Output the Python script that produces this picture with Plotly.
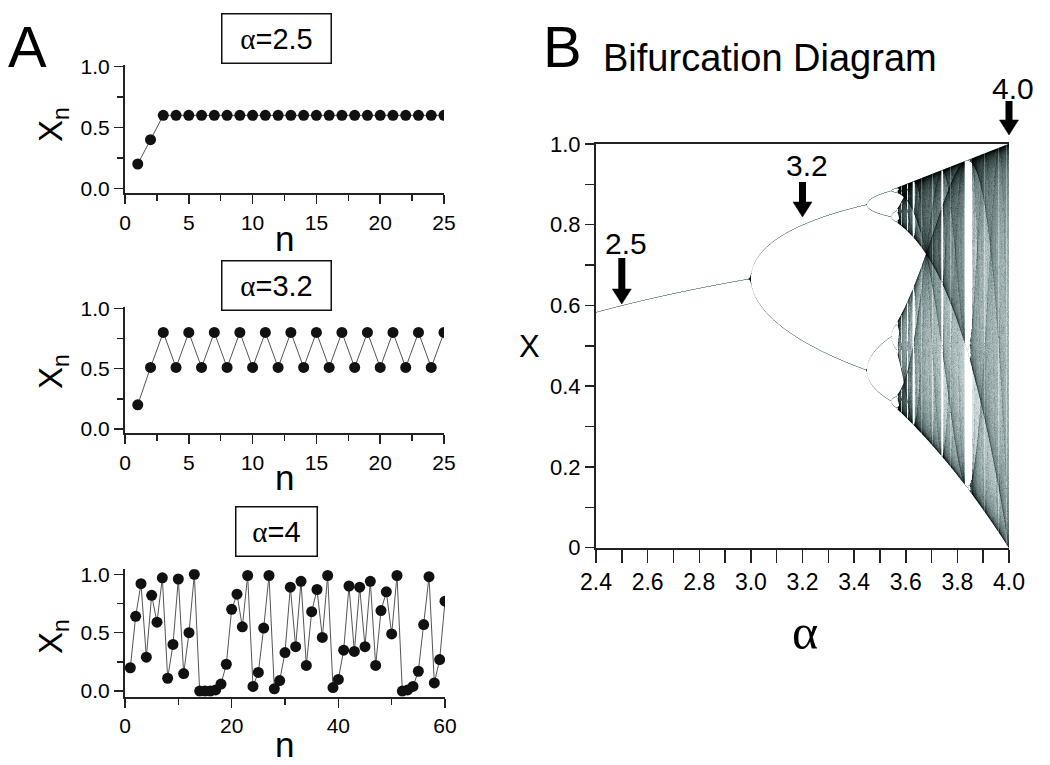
import numpy as np
import plotly.graph_objects as go

# ---------------- data ----------------
n_25 = list(range(1, 26))
x_alpha25 = [0.20, 0.40] + [0.60] * 23
x_alpha32 = [0.20, 0.51] + [0.80, 0.51] * 11 + [0.80]
n_60 = list(range(1, 61))
x_alpha4 = [0.20, 0.64, 0.92, 0.29, 0.82, 0.59, 0.97, 0.11, 0.40, 0.96,
            0.15, 0.50, 1.00, 0.00, 0.00, 0.00, 0.01, 0.06, 0.23, 0.70,
            0.83, 0.55, 0.99, 0.04, 0.16, 0.54, 0.99, 0.02, 0.09, 0.33,
            0.89, 0.38, 0.94, 0.22, 0.68, 0.87, 0.46, 0.99, 0.03, 0.10,
            0.35, 0.90, 0.34, 0.89, 0.38, 0.94, 0.22, 0.69, 0.85, 0.49,
            0.99, 0.00, 0.01, 0.04, 0.17, 0.57, 0.98, 0.07, 0.27, 0.77]
panel_titles = ["α=2.5", "α=3.2", "α=4"]

# Bifurcation diagram: logistic map x -> a*x*(1-x), the model the chart shows
ALPHA_MIN, ALPHA_MAX = 2.4, 4.0
X_START = 0.2
TRANSIENT = 400
KEEP = 16000
bif_xticks = [2.4, 2.6, 2.8, 3.0, 3.2, 3.4, 3.6, 3.8, 4.0]
bif_xticktext = ["2.4", "2.6", "2.8", "3.0", "3.2", "3.4", "3.6", "3.8", "4.0"]
bif_yticks = [0, 0.2, 0.4, 0.6, 0.8, 1.0]
bif_yticktext = ["0", "0.2", "0.4", "0.6", "0.8", "1.0"]
arrow_alphas = [2.5, 3.2, 4.0]
arrow_labels = ["2.5", "3.2", "4.0"]

# ---------------- bifurcation density image ----------------
N_COLS, N_ROWS, SS = 413, 404, 3
na, nr = N_COLS * SS, N_ROWS * SS
alphas = ALPHA_MIN + (np.arange(na) + 0.5) * (ALPHA_MAX - ALPHA_MIN) / na
xs = np.full(na, X_START)
for _ in range(TRANSIENT):
    xs = alphas * xs * (1 - xs)
cols = np.arange(na)
counts = np.zeros(nr * na, dtype=np.int64)
chunk = []
for k in range(KEEP):
    xs = alphas * xs * (1 - xs)
    r = np.clip((xs * nr).astype(np.int64), 0, nr - 1)
    chunk.append(r * na + cols)
    if len(chunk) == 1000:
        counts += np.bincount(np.concatenate(chunk), minlength=nr * na)
        chunk = []
if chunk:
    counts += np.bincount(np.concatenate(chunk), minlength=nr * na)
counts = counts.reshape(nr, na)
dark = 1 - np.exp(-counts / 28.0)
D = dark.reshape(N_ROWS, SS, N_COLS, SS).mean(axis=(1, 3))
D = np.round(D, 3)
hx = ALPHA_MIN + (np.arange(N_COLS) + 0.5) * (ALPHA_MAX - ALPHA_MIN) / N_COLS
hy = (np.arange(N_ROWS) + 0.5) / N_ROWS

# ---------------- layout helpers ----------------
W, H = 1050, 765
def px(xp):
    return xp / W
def py(yp):
    return 1 - yp / H

FONT = "Liberation Sans, Arial, sans-serif"
SERIF = "Liberation Serif, Times New Roman, serif"
AX = "#222222"

fig = go.Figure()

line_style = dict(color="#555555", width=1)
mark_style = dict(color="#111111", size=11)
series = [(n_25, x_alpha25), (n_25, x_alpha32), (n_60, x_alpha4)]
for i, (nn, xx) in enumerate(series):
    sfx = "" if i == 0 else str(i + 1)
    fig.add_trace(go.Scatter(x=nn, y=xx, mode="lines+markers", line=line_style,
                             marker=mark_style, xaxis="x" + sfx, yaxis="y" + sfx,
                             showlegend=False, hoverinfo="skip"))

fig.add_trace(go.Heatmap(x=hx, y=hy, z=D, zmin=0, zmax=1, showscale=False,
                         colorscale=[[0, "#ffffff"], [0.15, "#d0dbdb"], [0.33, "#8a9d9d"],
                                     [0.6, "#465757"], [0.85, "#172020"], [1, "#000000"]],
                         xaxis="x4", yaxis="y4", hoverinfo="skip"))

TICKFONT_A = dict(family=FONT, size=21, color="#000")

def a_axes(xdom, ydom, xr, yr, xd, xminor):
    xa = dict(domain=[px(xdom[0]), px(xdom[1])], range=xr, showgrid=False, zeroline=False,
              automargin=False, fixedrange=True,
              showline=True, linecolor=AX, linewidth=2, ticks="outside", ticklen=9,
              tickwidth=1.5, tickcolor=AX, dtick=xd, tick0=0,
              minor=dict(dtick=xminor, ticks="outside", ticklen=6, tickwidth=1.5, tickcolor=AX),
              tickfont=TICKFONT_A)
    ya = dict(domain=[py(ydom[1]), py(ydom[0])], range=yr, showgrid=False, zeroline=False,
              automargin=False, fixedrange=True,
              showline=True, linecolor=AX, linewidth=2, ticks="outside", ticklen=9,
              tickwidth=1.5, tickcolor=AX, tickvals=[0, 0.5, 1.0], ticktext=["0.0", "0.5", "1.0"],
              minor=dict(tickvals=[0.25, 0.75], ticks="outside", ticklen=6, tickwidth=1.5, tickcolor=AX),
              tickfont=TICKFONT_A)
    return xa, ya

xa1, ya1 = a_axes((125, 444), (65, 193.3), [0, 25], [-0.041, 1.014], 5, 2.5)
xa2, ya2 = a_axes((125, 444), (307, 433.3), [0, 25], [-0.036, 1.011], 5, 2.5)
xa3, ya3 = a_axes((125, 445), (569.3, 696.7), [0, 60], [-0.048, 1.043], 20, 10)
ya1["anchor"] = "x"; xa1["anchor"] = "y"
ya2["anchor"] = "x2"; xa2["anchor"] = "y2"
ya3["anchor"] = "x3"; xa3["anchor"] = "y3"

B_X0, B_X1, B_Y0, B_Y1 = 596, 1009, 547.7, 144
xa4 = dict(domain=[px(B_X0), px(B_X1)], range=[ALPHA_MIN, ALPHA_MAX], anchor="y4",
           automargin=False, fixedrange=True,
           showgrid=False, zeroline=False, showline=True, mirror=True, linecolor=AX, linewidth=2,
           ticks="outside", ticklen=13, tickwidth=1.5, tickcolor=AX,
           tickvals=bif_xticks, ticktext=bif_xticktext,
           minor=dict(dtick=0.1, tick0=2.4, ticks="outside", ticklen=13, tickwidth=1.5, tickcolor=AX),
           tickfont=dict(family=FONT, size=23, color="#000"))
ya4 = dict(domain=[py(B_Y0), py(B_Y1)], range=[0, 1], anchor="x4",
           automargin=False, fixedrange=True,
           showgrid=False, zeroline=False, showline=True, linecolor=AX, linewidth=2,
           ticks="outside", ticklen=9, tickwidth=1.5, tickcolor=AX,
           tickvals=bif_yticks, ticktext=bif_yticktext,
           minor=dict(dtick=0.1, tick0=0, ticks="outside", ticklen=9, tickwidth=1.5, tickcolor=AX),
           tickfont=dict(family=FONT, size=22, color="#000"))

ann = []
def text(xp, yp, t, size, family=FONT, xanchor="center", angle=0):
    ann.append(dict(x=px(xp), y=py(yp), xref="paper", yref="paper", text=t, showarrow=False,
                    xanchor=xanchor, yanchor="middle", textangle=angle,
                    font=dict(family=family, size=size, color="#000")))

# panel letters and title
text(27, 46, "A", 58)
text(562, 46, "B", 58)
text(601, 58, "Bifurcation Diagram", 38, xanchor="left")

# boxed alpha labels
boxes = [(276.5, 38, 108), (276.5, 285, 108), (276.5, 531.5, 80)]
for (cx, cy, w), t in zip(boxes, panel_titles):
    lab = t.replace("α", "<span style='font-family:Liberation Serif'>α</span>")
    ann.append(dict(x=px(cx), y=py(cy), xref="paper", yref="paper", text=lab, showarrow=False,
                    xanchor="center", yanchor="middle", width=w, height=48,
                    bordercolor="#111", borderwidth=1.5, borderpad=0, bgcolor="white",
                    font=dict(family=FONT, size=29, color="#000")))

# axis titles panel A
for cy in (238, 477, 744):
    text(284.5, cy, "n", 35)
for cy in (125, 372, 637):
    text(53, cy, "X<sub>n</sub>", 33, angle=-90)

# axis titles panel B
text(529, 347, "X", 31)
text(805, 632, "α", 50, family=SERIF)

# arrows in panel B (drawn as shapes, positioned from the alpha values)
shapes = []
arrow_px = [(258, 304), (182, 217), (101, 135)]
label_y = [243, 165, 88]
HEAD_L, HEAD_HW, SHAFT_W = 15, 9.5, 7
for a, (tail, tip), lab, ly in zip(arrow_alphas, arrow_px, arrow_labels, label_y):
    cx = B_X0 + (a - ALPHA_MIN) / (ALPHA_MAX - ALPHA_MIN) * (B_X1 - B_X0)
    shapes.append(dict(type="line", xref="paper", yref="paper",
                       x0=px(cx), x1=px(cx), y0=py(tail), y1=py(tip - HEAD_L + 1),
                       line=dict(color="#000", width=SHAFT_W)))
    path = "M {:.5f},{:.5f} L {:.5f},{:.5f} L {:.5f},{:.5f} Z".format(
        px(cx - HEAD_HW), py(tip - HEAD_L), px(cx + HEAD_HW), py(tip - HEAD_L), px(cx), py(tip))
    shapes.append(dict(type="path", xref="paper", yref="paper", path=path,
                       fillcolor="#000", line=dict(color="#000", width=0.5)))
    text(cx + 4, ly, lab, 30)

fig.update_layout(width=W, height=H, margin=dict(l=0, r=0, t=0, b=0, autoexpand=False),
                  paper_bgcolor="white", plot_bgcolor="rgba(0,0,0,0)",
                  xaxis=xa1, yaxis=ya1, xaxis2=xa2, yaxis2=ya2, xaxis3=xa3, yaxis3=ya3,
                  xaxis4=xa4, yaxis4=ya4, annotations=ann, shapes=shapes, showlegend=False,
                  hovermode=False, font=dict(family=FONT))

fig.write_html("out.html", config={"displayModeBar": False, "staticPlot": True},
               post_script="document.body.style.margin='0px';")
